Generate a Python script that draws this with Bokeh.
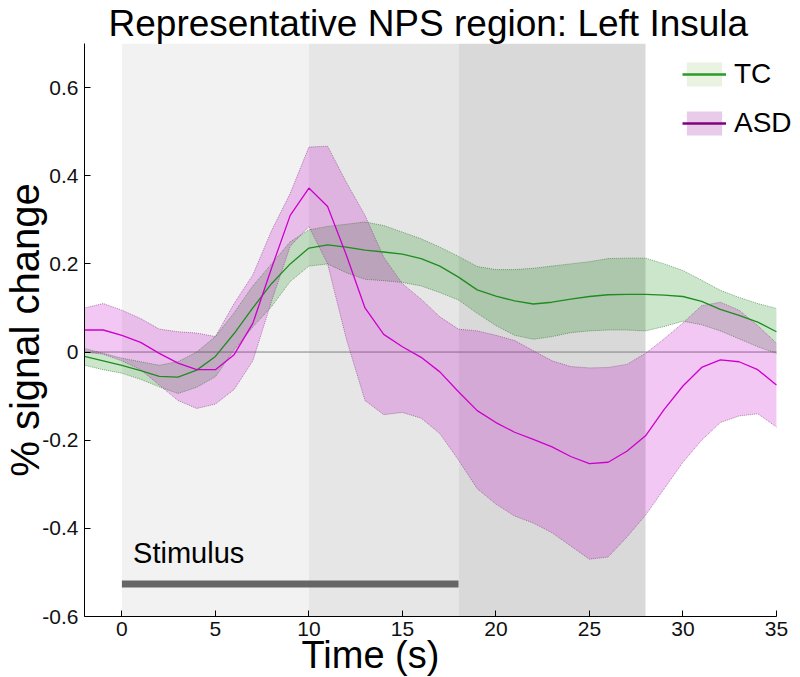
from bokeh.plotting import figure
from bokeh.models import ColumnDataSource, Legend, LegendItem, FixedTicker, BoxAnnotation, Label, Title
from bokeh.embed import file_html
from bokeh.resources import INLINE

# ---- data ----
time_s = list(range(-2, 36))

tc_mean = [-0.010, -0.020, -0.030, -0.042, -0.055, -0.057, -0.041, -0.010, 0.042, 0.100,
           0.155, 0.200, 0.236, 0.243, 0.238, 0.231, 0.227, 0.222, 0.212, 0.195,
           0.170, 0.141, 0.127, 0.116, 0.109, 0.113, 0.120, 0.126, 0.130, 0.131,
           0.131, 0.129, 0.126, 0.115, 0.097, 0.083, 0.068, 0.046]
tc_upper = [0.008, -0.003, -0.014, -0.022, -0.030, -0.022, 0.000, 0.035, 0.089, 0.150,
            0.200, 0.250, 0.277, 0.285, 0.290, 0.295, 0.287, 0.272, 0.257, 0.238,
            0.217, 0.194, 0.187, 0.187, 0.190, 0.195, 0.200, 0.205, 0.212, 0.213,
            0.213, 0.200, 0.185, 0.163, 0.140, 0.124, 0.110, 0.099]
tc_lower = [-0.030, -0.040, -0.048, -0.062, -0.079, -0.094, -0.080, -0.056, 0.005, 0.057,
            0.103, 0.160, 0.195, 0.200, 0.180, 0.165, 0.162, 0.158, 0.150, 0.135,
            0.118, 0.088, 0.060, 0.038, 0.029, 0.035, 0.044, 0.048, 0.050, 0.050,
            0.048, 0.058, 0.070, 0.062, 0.048, 0.030, 0.012, -0.003]

asd_mean = [0.050, 0.050, 0.038, 0.022, -0.003, -0.025, -0.040, -0.040, -0.006, 0.065,
            0.190, 0.310, 0.372, 0.330, 0.220, 0.100, 0.040, 0.012, -0.012, -0.045,
            -0.090, -0.133, -0.160, -0.182, -0.198, -0.215, -0.237, -0.253, -0.250, -0.225,
            -0.190, -0.130, -0.077, -0.035, -0.018, -0.022, -0.040, -0.075]
asd_upper = [0.100, 0.110, 0.095, 0.076, 0.052, 0.046, 0.043, 0.035, 0.110, 0.175,
             0.275, 0.360, 0.465, 0.467, 0.385, 0.310, 0.215, 0.155, 0.120, 0.080,
             0.052, 0.048, 0.038, 0.026, 0.003, -0.020, -0.033, -0.036, -0.035, -0.028,
             -0.003, 0.030, 0.066, 0.105, 0.113, 0.095, 0.060, 0.020]
asd_lower = [0.000, -0.005, -0.020, -0.040, -0.075, -0.110, -0.128, -0.118, -0.085, -0.020,
             0.115, 0.240, 0.285, 0.200, 0.030, -0.110, -0.142, -0.137, -0.150, -0.185,
             -0.245, -0.310, -0.345, -0.372, -0.388, -0.410, -0.440, -0.470, -0.465, -0.420,
             -0.370, -0.310, -0.250, -0.200, -0.160, -0.145, -0.140, -0.170]

phase_start = [0, 10, 18]
phase_end = [10, 18, 28]
phase_colors = ["#f2f2f2", "#e6e6e6", "#d9d9d9"]

stim_start = [0]
stim_end = [18]
stim_level = [-0.526]

x_ticks = [0, 5, 10, 15, 20, 25, 30, 35]
y_ticks = [-0.6, -0.4, -0.2, 0, 0.2, 0.4, 0.6]
y_tick_labels = ["-0.6", "-0.4", "-0.2", "0", "0.2", "0.4", "0.6"]

FONT = "Liberation Sans"

src = ColumnDataSource(dict(t=time_s, tc_mean=tc_mean, tc_upper=tc_upper, tc_lower=tc_lower,
                            asd_mean=asd_mean, asd_upper=asd_upper, asd_lower=asd_lower))

x_lo, x_hi = time_s[0], time_s[-1]

p = figure(frame_width=711, frame_height=573, x_range=(x_lo, 36.02), y_range=(-0.6, 0.7),
           output_backend="svg", toolbar_location=None,
           min_border_left=79, min_border_right=0, min_border_top=35, min_border_bottom=61)

p.title.text = "Representative NPS region: Left Insula"
p.title.align = "left"
p.title.offset = 24
p.title.text_font = FONT
p.title.text_font_size = "37px"
p.title.text_font_style = "normal"
p.title.text_color = "#000000"
p.title.standoff = 0

for s, e, c in zip(phase_start, phase_end, phase_colors):
    p.add_layout(BoxAnnotation(left=s, right=e, fill_color=c, fill_alpha=1.0,
                               line_alpha=0, level="underlay"))

# zero line across the data extent
p.line(x=[x_lo, x_hi], y=[0, 0], line_color="#808080", line_width=1)

# bands
p.varea(x="t", y1="tc_lower", y2="tc_upper", source=src, fill_color="#008000", fill_alpha=0.2)
p.varea(x="t", y1="asd_lower", y2="asd_upper", source=src, fill_color="#c800c8", fill_alpha=0.22)
for col in ["tc_upper", "tc_lower"]:
    p.line(x="t", y=col, source=src, line_color="#1e6e1e", line_alpha=0.55, line_width=1, line_dash="1 1")
for col in ["asd_upper", "asd_lower"]:
    p.line(x="t", y=col, source=src, line_color="#7a2a7a", line_alpha=0.55, line_width=1, line_dash="1 1")

p.line(x="t", y="tc_mean", source=src, line_color="#1f8c1f", line_width=1.3)
p.line(x="t", y="asd_mean", source=src, line_color="#cc00cc", line_width=1.3)

# stimulus bar
p.segment(x0=stim_start, y0=stim_level, x1=stim_end, y1=stim_level,
          line_color="#666666", line_width=7, line_cap="butt")
p.add_layout(Label(x=0.6, y=-0.456, text="Stimulus", text_font=FONT, text_font_size="29px",
                   text_color="#000000", text_baseline="alphabetic"))

# legend glyphs (placed outside the visible range; only their legend swatches show)
off = [100, 101]
tc_leg_patch = p.varea(x=off, y1=[0, 0], y2=[1, 1], fill_color="#d8e8c8", fill_alpha=0.55)
tc_leg_line = p.line(x=off, y=[0, 0], line_color="#2a9a2a", line_width=2.5)
asd_leg_patch = p.varea(x=off, y1=[0, 0], y2=[1, 1], fill_color="#d8a8d8", fill_alpha=0.6)
asd_leg_line = p.line(x=off, y=[0, 0], line_color="#800080", line_width=2.5)

legend = Legend(items=[LegendItem(label="TC", renderers=[tc_leg_patch, tc_leg_line]),
                       LegendItem(label="ASD", renderers=[asd_leg_patch, asd_leg_line])],
                location=(598, 477), padding=0, margin=0, spacing=17,
                glyph_width=44, glyph_height=30, label_height=30, label_standoff=8,
                label_text_font=FONT, label_text_font_size="28px", label_text_color="#000000",
                label_text_baseline="middle",
                border_line_alpha=0, background_fill_alpha=0)
p.add_layout(legend)

# axes
p.grid.visible = False
p.outline_line_color = None
for ax in (p.xaxis[0], p.yaxis[0]):
    ax.axis_line_color = "#000000"
    ax.axis_line_width = 1
    ax.major_tick_in = 6
    ax.major_tick_out = 0
    ax.major_tick_line_color = "#000000"
    ax.minor_tick_line_color = None
    ax.major_label_text_font = FONT
    ax.major_label_text_font_size = "21px"
    ax.major_label_text_color = "#111111"
    ax.axis_label_text_font = FONT
    ax.axis_label_text_font_style = "normal"
    ax.axis_label_text_color = "#000000"

p.xaxis.bounds = (x_lo, x_hi)
p.xaxis.ticker = FixedTicker(ticks=x_ticks)
p.yaxis.ticker = FixedTicker(ticks=y_ticks)
p.yaxis.major_label_overrides = dict(zip(y_ticks, y_tick_labels))
p.yaxis.axis_label = "% signal change"
p.yaxis.axis_label_text_font_size = "40px"
p.xaxis.major_label_standoff = 5
p.yaxis.major_label_standoff = 6
p.yaxis.axis_label_standoff = -8

# x-axis label as a title below the axis (placed like the reference)
p.add_layout(Title(text="Time (s)", align="left", offset=217, standoff=-14,
                   text_font=FONT, text_font_size="38px", text_font_style="normal",
                   text_color="#000000"), "below")

open("out.html", "w").write(file_html(p, INLINE))
